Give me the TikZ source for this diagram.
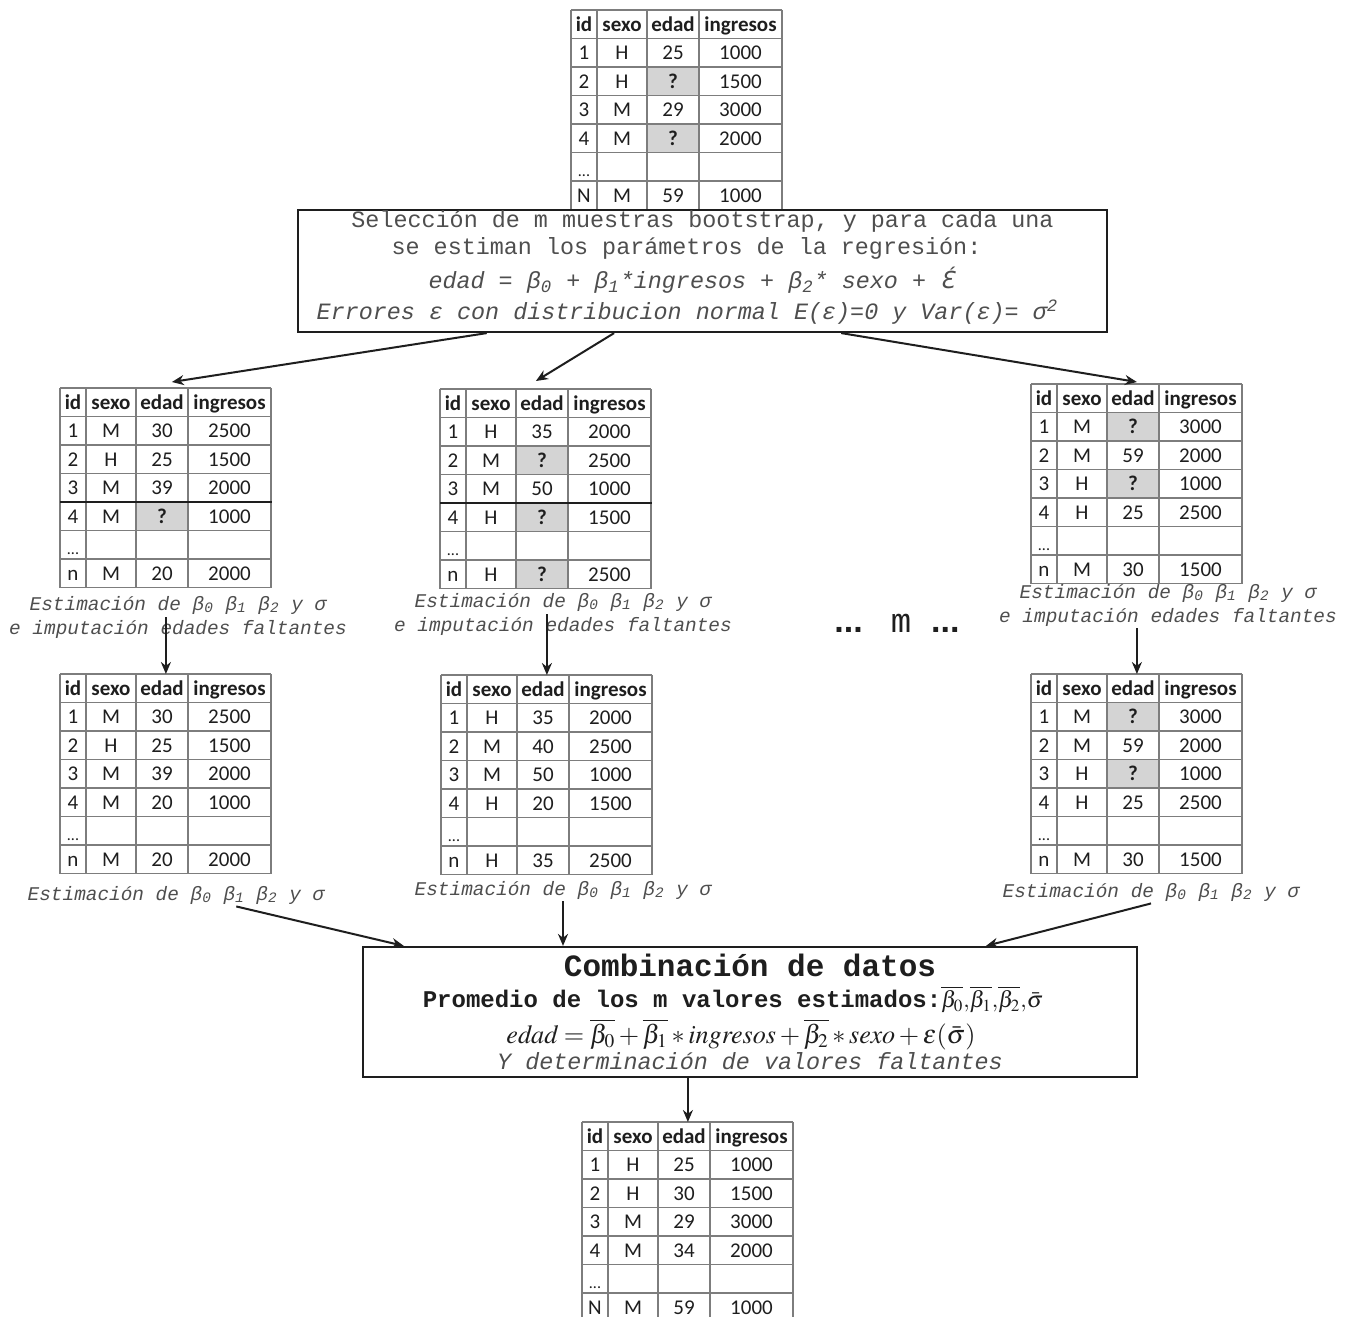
\documentclass[tikz,border=0pt]{standalone}
\usepackage{mathptmx}
\usepackage{fontspec}
\setmainfont{Liberation Serif}
\setsansfont{Liberation Sans}
\setmonofont{Liberation Mono}
\newfontfamily\carlito{Carlito}
\newfontfamily\dejavu{DejaVu Sans}
\usetikzlibrary{arrows.meta,positioning,calc}
\definecolor{tinta}{RGB}{30,30,30}
\definecolor{gristexto}{RGB}{78,78,78}
\definecolor{linea}{RGB}{125,125,125}
\definecolor{sombra}{RGB}{212,212,212}

\newcommand{\q}{\textbf{?}}
\newcommand{\puntos}{\raisebox{-1.5pt}{\fontsize{8}{8}\selectfont...}}

% tabla de datos: #1 nombre, #2 esquina sup. izq., #3 filas con edad faltante, #4 filas
\newcommand{\tabla}[4]{%
  \begin{scope}[shift={#2}]
    \if\relax\detokenize{#3}\relax\else
      \foreach \f in {#3}
        \fill[sombra] (76,\f*28.5) rectangle (128,\f*28.5+28.5);
    \fi
    \foreach \x/\t in {13/id,51/sexo,102/edad,169.5/ingresos}
      \node[cab] at (\x,14.25) {\t};
    \foreach \id/\sx/\ed/\ing [count=\f] in {#4} {
      \node[dato] at (13,\f*28.5+14.25) {\id};
      \node[dato] at (51,\f*28.5+14.25) {\sx};
      \node[dato] at (102,\f*28.5+14.25) {\ed};
      \node[dato] at (169.5,\f*28.5+14.25) {\ing};
    }
    \foreach \y in {0,...,7}
      \draw[rejilla] (0,\y*28.5) -- (211,\y*28.5);
    \foreach \x in {0,26,76,128,211}
      \draw[rejilla] (\x,0) -- (\x,199.5);
  \end{scope}
  \node[marco, anchor=north west] (#1) at #2 {};
}

\begin{document}
\begin{tikzpicture}[
  x=0.5pt, y=-0.5pt,
  cab/.style={font=\carlito\bfseries\fontsize{10.5}{12}\selectfont, text=tinta, inner sep=0, text height=6.8pt, text depth=0pt},
  dato/.style={font=\carlito\fontsize{10.5}{12}\selectfont, text=tinta, inner sep=0, text height=6.8pt, text depth=0pt},
  rejilla/.style={draw=linea, line width=0.8pt},
  corte/.style={draw=tinta, line width=1pt},
  marco/.style={inner sep=0, minimum width=105.5pt, minimum height=99.75pt},
  caja/.style={draw=tinta, line width=1.1pt, align=center, inner sep=2pt},
  leyenda/.style={font=\ttfamily\itshape\fontsize{9.7}{12}\selectfont, text=gristexto, align=center, inner sep=1pt},
  arr/.style={-{Stealth[length=6pt, width=5pt]}, line width=1pt, draw=tinta},
]
\path[use as bounding box, fill=white] (0,0) rectangle (1353,1316);

% tabla original con edades faltantes
\tabla{t0}{(571,10)}{2,4}{1/H/25/1000, 2/H/\q/1500, 3/M/29/3000, 4/M/\q/2000, \puntos/{}/{}/{}, N/M/59/1000}

\node[caja, inner ysep=0pt, text=gristexto, font=\ttfamily\fontsize{11.7}{13.5}\selectfont,
      minimum width=404.5pt, minimum height=61pt] (sel) at (702.5,271)
  {Selección de m muestras bootstrap, y para cada una\\
   se estiman los parámetros de la regresión:\rule{16pt}{0pt}\\[3.5pt]
   {\itshape edad = β\textsubscript{0} + β\textsubscript{1}*ingresos + β\textsubscript{2}* sexo + {\dejavu\itshape Ɛ́}}\rule{11pt}{0pt}\\[2pt]
   {\itshape Errores ε con distribucion normal E(ε)=0 y Var(ε)= σ\textsuperscript{2}}\rule[-5.5pt]{15pt}{0pt}};

% muestras bootstrap
\tabla{tA}{(60,388)}{4}{1/M/30/2500, 2/H/25/1500, 3/M/39/2000, 4/M/\q/1000, \puntos/{}/{}/{}, n/M/20/2000}
\tabla{tB}{(440,389)}{2,4,6}{1/H/35/2000, 2/M/\q/2500, 3/M/50/1000, 4/H/\q/1500, \puntos/{}/{}/{}, n/H/\q/2500}
\tabla{tC}{(1031,384)}{1,3}{1/M/\q/3000, 2/M/59/2000, 3/H/\q/1000, 4/H/25/2500, \puntos/{}/{}/{}, n/M/30/1500}
\draw[corte] ($(tA.north west)+(0,114)$) -- ($(tA.north east)+(0,114)$);
\draw[corte] ($(tB.north west)+(0,114)$) -- ($(tB.north east)+(0,114)$);

\node[leyenda] (lA) at (178,617) {Estimación de β\textsubscript{0} β\textsubscript{1} β\textsubscript{2} y σ\\e imputación edades faltantes};
\node[leyenda] (lB) at (563,614) {Estimación de β\textsubscript{0} β\textsubscript{1} β\textsubscript{2} y σ\\e imputación edades faltantes};
\node[leyenda] (lC) at (1168,605) {Estimación de β\textsubscript{0} β\textsubscript{1} β\textsubscript{2} y σ\\e imputación edades faltantes};
\node[text=tinta] (mm) at (897,623)
  {{\sffamily\bfseries\fontsize{17}{17}\selectfont ...}\hspace{14pt}{\ttfamily\fontsize{17}{17}\selectfont m}\hspace{10pt}{\sffamily\bfseries\fontsize{17}{17}\selectfont ...}};

% muestras imputadas
\tabla{tD}{(60,674)}{}{1/M/30/2500, 2/H/25/1500, 3/M/39/2000, 4/M/20/1000, \puntos/{}/{}/{}, n/M/20/2000}
\tabla{tE}{(441,675)}{}{1/H/35/2000, 2/M/40/2500, 3/M/50/1000, 4/H/20/1500, \puntos/{}/{}/{}, n/H/35/2500}
\tabla{tF}{(1031,674)}{1,3}{1/M/\q/3000, 2/M/59/2000, 3/H/\q/1000, 4/H/25/2500, \puntos/{}/{}/{}, n/M/30/1500}

\node[leyenda] (dA) at (176,895) {Estimación de β\textsubscript{0} β\textsubscript{1} β\textsubscript{2} y σ};
\node[leyenda] (dB) at (563,890) {Estimación de β\textsubscript{0} β\textsubscript{1} β\textsubscript{2} y σ};
\node[leyenda] (dC) at (1151,892) {Estimación de β\textsubscript{0} β\textsubscript{1} β\textsubscript{2} y σ};

\node[caja, text=tinta, minimum width=387pt, minimum height=65pt, font=\fontsize{13.1}{14}\selectfont] (comb) at (750,1012)
  {{\ttfamily\bfseries\fontsize{15.5}{17}\selectfont Combinación de datos}\\[1.5pt]
   {\ttfamily\bfseries\fontsize{12}{14}\selectfont Promedio de los m valores estimados:}{\fontsize{11.5}{14}\selectfont$\overline{\beta_0}{,}\overline{\beta_1}{,}\overline{\beta_2}{,}\bar{\sigma}$}\rule{17pt}{0pt}\\[2pt]
   $\mathit{edad} = \overline{\beta_0} + \overline{\beta_1} \ast \mathit{ingresos} + \overline{\beta_2} \ast \mathit{sexo} + \varepsilon(\bar{\sigma})$\rule{9pt}{0pt}\\[-1pt]
   {\ttfamily\itshape\fontsize{11.7}{13}\selectfont\color{gristexto} Y determinación de valores faltantes}};

% resultado final
\tabla{tG}{(582,1122)}{}{1/H/25/1000, 2/H/30/1500, 3/M/29/3000, 4/M/34/2000, \puntos/{}/{}/{}, N/M/59/1000}

\draw[arr] ($(sel.south west)!0.234!(sel.south east)$) -- ([xshift=3pt, yshift=3pt]tA.north);
\draw[arr] ($(sel.south west)!0.391!(sel.south east)$) -- ([xshift=-5pt, yshift=4pt]tB.north);
\draw[arr] ($(sel.south west)!0.671!(sel.south east)$) -- ([yshift=1pt]tC.north);
\draw[arr] (lA.center -| tD.north) -- (tD.north);
\draw[arr] (lB.center -| tE.north) -- (tE.north);
\draw[arr] (lC.south -| tF.north) -- (tF.north);
\draw[arr] ($(dA.south west)!0.7!(dA.south east)$) -- ($(comb.north west)!0.054!(comb.north east)$);
\draw[arr] (dB.south) -- (dB.south |- comb.north);
\draw[arr] (dC.south) -- ($(comb.north west)!0.804!(comb.north east)$);
\draw[arr] (comb.south -| tG.north) -- (tG.north);
\end{tikzpicture}
\end{document}
